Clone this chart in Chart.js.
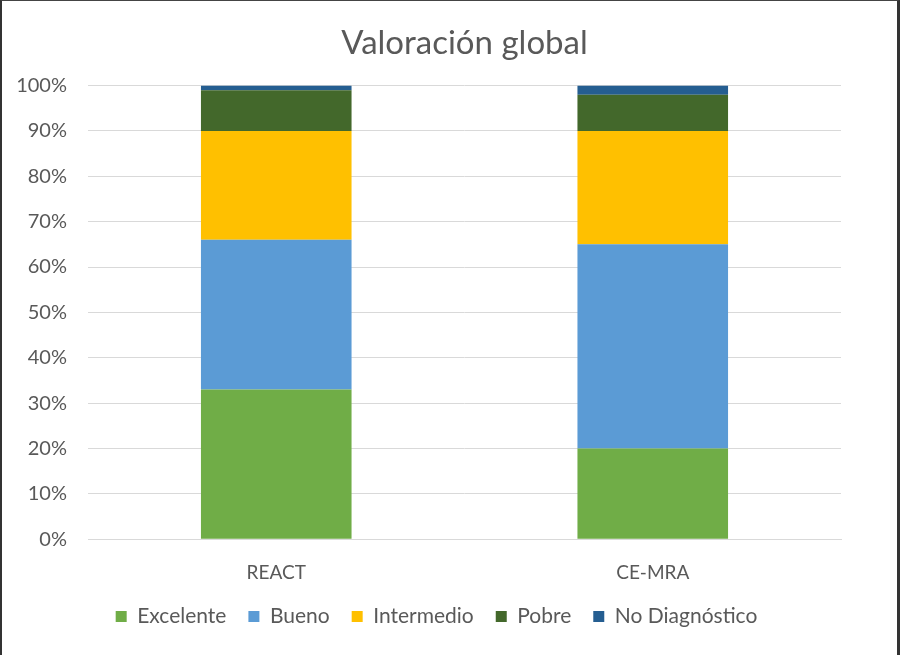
<!DOCTYPE html>
<html lang="es">
<head>
    <meta charset="UTF-8">
    <title>Valoración global</title>
    <style>
        body {
            margin: 0;
            padding: 0;
            background: #fff;
        }

        .frame {
            box-sizing: border-box;
            width: 900px;
            height: 655px;
            border-left: 2px solid #333;
            border-right: 3px solid #333;
            border-top: 1px solid #444;
            position: relative;
        }

        canvas {
            display: block;
        }
    </style>
    <script src="https://cdn.jsdelivr.net/npm/chart.js"></script>
</head>
<body>
    <div class="frame">
        <canvas id="chart" width="895" height="654"></canvas>
    </div>
    <script>
        // data (percent of cases)
        const categories = ['REACT', 'CE-MRA'];
        const excelente = [33, 20];
        const bueno = [33, 45];
        const intermedio = [24, 25];
        const pobre = [9, 8];
        const noDiagnostico = [1, 2];
        const yTicks = [0, 10, 20, 30, 40, 50, 60, 70, 80, 90, 100];

        const font = "Lato, 'Open Sans', sans-serif";
        const textColor = '#595959';

        // Excel centres the title over the plot area, and the legend a bit right of the canvas centre
        const placeBlocks = {
            id: 'placeBlocks',
            afterLayout(chart) {
                const area = chart.chartArea;
                chart.titleBlock.left = area.left;
                chart.titleBlock.right = area.right;
                chart.legend.left += 15;
                chart.legend.right += 15;
            }
        };

        const ctx = document.getElementById('chart').getContext('2d');
        new Chart(ctx, {
            type: 'bar',
            data: {
                labels: categories,
                datasets: [
                    { label: 'Excelente', data: excelente, backgroundColor: '#70ad47' },
                    { label: 'Bueno', data: bueno, backgroundColor: '#5b9bd5' },
                    { label: 'Intermedio', data: intermedio, backgroundColor: '#ffc000' },
                    { label: 'Pobre', data: pobre, backgroundColor: '#43682b' },
                    { label: 'No Diagnóstico', data: noDiagnostico, backgroundColor: '#255e91' }
                ]
            },
            options: {
                responsive: false,
                animation: false,
                layout: {
                    padding: { left: 0, right: 56, top: 0, bottom: 18 }
                },
                datasets: {
                    bar: {
                        barPercentage: 0.4,
                        categoryPercentage: 1
                    }
                },
                scales: {
                    x: {
                        stacked: true,
                        grid: { display: false },
                        border: { color: '#d9d9d9' },
                        ticks: {
                            color: textColor,
                            font: { family: font, size: 19 },
                            padding: 14
                        },
                        // trim the empty strip under the labels
                        afterFit: (scale) => { scale.height -= 14; }
                    },
                    y: {
                        stacked: true,
                        min: 0,
                        max: 100,
                        afterBuildTicks: (axis) => {
                            axis.ticks = yTicks.map(v => ({ value: v }));
                        },
                        afterFit: (scale) => { scale.width = 86; },
                        grid: {
                            color: '#d9d9d9',
                            drawTicks: false
                        },
                        border: { display: false },
                        ticks: {
                            color: textColor,
                            font: { family: font, size: 20 },
                            padding: 21,
                            callback: (v) => v + '%'
                        }
                    }
                },
                plugins: {
                    title: {
                        display: true,
                        text: 'Valoración global',
                        color: textColor,
                        font: { family: font, size: 33, weight: 'normal' },
                        padding: { top: 23, bottom: 22 }
                    },
                    legend: {
                        position: 'bottom',
                        labels: {
                            color: textColor,
                            font: { family: font, size: 21 },
                            boxWidth: 11,
                            boxHeight: 11,
                            padding: 22
                        }
                    },
                    tooltip: { enabled: false }
                }
            },
            plugins: [placeBlocks]
        });
    </script>
</body>
</html>
